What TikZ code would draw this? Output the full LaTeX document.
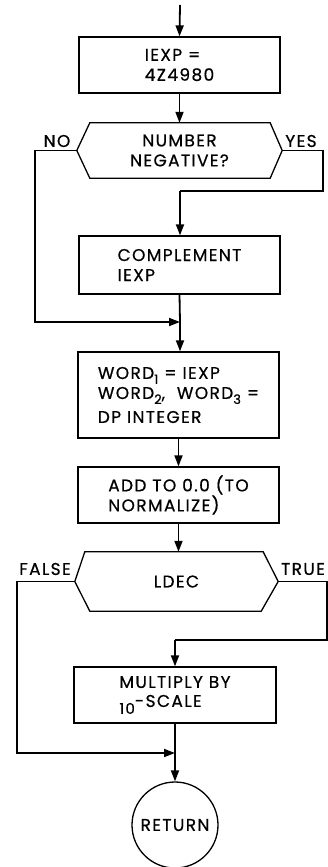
\documentclass[tikz,border=0pt]{standalone}
\usepackage{fontspec}
\setmainfont{Poppins}[LetterSpace=8,FakeBold=0.6]
\usetikzlibrary{arrows.meta}
\newcommand\fs{\fontsize{17}{20}\selectfont}
\newcommand\wsub[1]{\raisebox{-5pt}{\fontsize{13}{13}\selectfont #1}}
\begin{document}
\begin{tikzpicture}[x=1pt,y=-1pt,
  box/.style={draw,line width=1.3pt,minimum width=201pt,minimum height=56pt,inner sep=0pt,align=left,font=\fs},
  dec/.style={rectangle,minimum width=205pt,minimum height=55pt,inner sep=0pt,align=center,font=\fs},
  hexa/.style={line width=1.3pt,line join=miter},
  flow/.style={line width=1.8pt,-{Triangle[length=11pt,width=8pt]}},
  wire/.style={line width=1.8pt},
  lab/.style={font=\fs}]
\useasboundingbox (0,0) rectangle (328,867);
\coordinate (top) at (180,5);
\node[box] (b1) at (179.5,65) {IEXP =\\4Z4980};
\node[dec] (d1) at (179.5,150.5) {NUMBER\\NEGATIVE?};
\draw[hexa] ([xshift=13pt]d1.north west) -- ([xshift=-12pt]d1.north east) -- (d1.east)
  -- ([xshift=-12pt]d1.south east) -- ([xshift=13pt]d1.south west) -- (d1.west) -- cycle;
\node[box,minimum height=58pt] (b2) at (179.5,265) {COMPLEMENT\\IEXP};
\node[box,minimum height=86pt] (b3) at (178.5,395) {WORD\wsub{1} = IEXP\\WORD\wsub{2},\ \ WORD\wsub{3} =\\[4pt]DP INTEGER};
\node[box] (b4) at (178.5,495) {ADD TO 0.0 (TO\\NORMALIZE)};
\node[dec,minimum width=203pt,minimum height=59pt] (d2) at (176.5,581.5) {LDEC};
\draw[hexa] ([xshift=10pt]d2.north west) -- ([xshift=-15pt]d2.north east) -- (d2.east)
  -- ([xshift=-17pt]d2.south east) -- ([xshift=15pt]d2.south west) -- (d2.west) -- cycle;
\node[box,minimum width=202pt] (b5) at (175,695) {MULTIPLY BY\\\raisebox{-6pt}{\fontsize{15}{15}\selectfont 10}\raisebox{1pt}{-SCALE}};
\node[circle,draw,line width=1.3pt,minimum size=86pt,inner sep=0pt,font=\fs] (ret) at (175,825) {RETURN};
\node[lab] (no) at (57,141) {NO};
\node[lab] (yes) at (301,141) {YES};
\node[lab] (false) at (45,569) {FALSE};
\node[lab] (true) at (303,569) {TRUE};
\draw[flow] (top) -- (b1.north);
\draw[flow] (b1.south) -- (b1.south |- d1.north);
\coordinate (nL) at (35,150.5);
\coordinate (j1) at (180,322);
\draw[flow] (d1.west) -- (nL) |- (j1);
\coordinate (yR) at (323,191);
\coordinate (yT) at (180,191);
\draw[wire] (d1.east) -| (yR) -- (yT);
\draw[flow] (yT) -- (yT |- b2.north);
\draw[wire] (b2.south) -- (j1);
\draw[flow] (j1) -- (j1 |- b3.north);
\draw[flow] (b3.south) -- (b3.south |- b4.north);
\draw[flow] (b4.south) -- (b4.south |- d2.north);
\coordinate (fL) at (17,581.5);
\coordinate (j2) at (175,753);
\draw[flow] (d2.west) -- (fL) |- (j2);
\coordinate (tR) at (327,640);
\coordinate (tT) at (175,640);
\draw[wire] (d2.east) -| (tR) -- (tT);
\draw[flow] (tT) -- (b5.north);
\draw[wire] (b5.south) -- (j2);
\draw[flow] (j2) -- (ret.north);
\end{tikzpicture}
\end{document}
